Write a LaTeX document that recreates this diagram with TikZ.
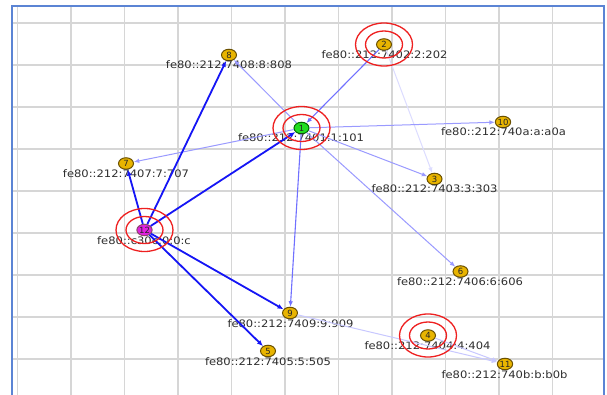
\documentclass[tikz,border=0pt]{standalone}
\usepackage{fontspec}
\setmainfont{DejaVu Sans}
\newfontfamily\lblfont[FakeStretch=1.12]{DejaVu Sans}
\usetikzlibrary{shapes.geometric,arrows.meta}
\definecolor{gridc}{HTML}{D6D6D6}
\definecolor{framec}{HTML}{5B84D4}
\definecolor{gold}{HTML}{E8B400}
\definecolor{goldd}{HTML}{6A5000}
\definecolor{greenn}{HTML}{22DD22}
\definecolor{magn}{HTML}{E020E0}
\definecolor{strongc}{HTML}{1515F5}
\definecolor{medc}{HTML}{7070FF}
\definecolor{litec}{HTML}{9A9AFF}
\definecolor{faintc}{HTML}{C8C8FF}
\definecolor{vfaintc}{HTML}{DCDCFF}
\definecolor{ringc}{HTML}{EE2020}
\definecolor{txtc}{HTML}{2E2E2E}
\begin{document}
\begin{tikzpicture}[x=1pt,y=-1pt,
  dev/.style={ellipse,draw=goldd,fill=gold,line width=1pt,minimum width=15pt,minimum height=11.5pt,inner sep=0pt,font=\fontsize{8.5}{9}\selectfont,text=black!85},
  lbl/.style={font=\lblfont\fontsize{10.3}{11}\selectfont,text=txtc,inner sep=0pt,anchor=base},
  ring/.style={draw=ringc,line width=1.3pt},
  gridl/.style={draw=gridc,line width=1.3pt},
  estrong/.style={draw=strongc,line width=1.8pt,-{Latex[length=6pt,width=5pt]}},
  emed/.style={draw=medc,line width=1.1pt,-{Latex[length=5.5pt,width=4.5pt]}},
  elite/.style={draw=litec,line width=1pt,-{Latex[length=5.5pt,width=4.5pt]}},
  efaint/.style={draw=faintc,line width=1pt,-{Latex[length=5.5pt,width=4.5pt]}},
  evfaint/.style={draw=vfaintc,line width=1pt,-{Latex[length=5.5pt,width=4.5pt]}}
]
\useasboundingbox (0,0) rectangle (607,395);
\fill[white] (0,0) rectangle (607,395);
% grid
\foreach \gx in {17.5,71,124.5,178,231.5,285,338.5,392,445.5,499,552.5}
  \draw[gridl] (\gx,7) -- (\gx,395);
\foreach \gy in {23,65,107,149,191,233,275,317,359}
  \draw[gridl] (12,\gy) -- (604,\gy);
% frame
\draw[framec,line width=2pt] (12,395) -- (12,6.5) -- (604,6.5) -- (604,395);
% nodes
\node[dev] (n8) at (229,55) {8};
\node[dev] (n2) at (384,44.5) {2};
\node[dev,fill=greenn,draw=black!60!green] (n1) at (301.5,128) {1};
\node[dev] (n10) at (503,122) {10};
\node[dev] (n7) at (126,163.5) {7};
\node[dev,fill=magn,draw=black!50!magenta] (n12) at (144.5,230) {12};
\node[dev] (n3) at (434.5,179) {3};
\node[dev] (n6) at (460.5,271.5) {6};
\node[dev] (n9) at (290,313) {9};
\node[dev] (n5) at (268,351) {5};
\node[dev] (n4) at (428,335.5) {4};
\node[dev] (n11) at (505,364) {11};
% labels
\node[lbl] (t8) at (229,69) {fe80::212:7408:8:808};
\node[lbl] (t2) at (384.5,58.5) {fe80::212:7402:2:202};
\node[lbl] (t1) at (301,142) {fe80::212:7401:1:101};
\node[lbl] (t10) at (503.5,136) {fe80::212:740a:a:a0a};
\node[lbl] (t7) at (126,177.5) {fe80::212:7407:7:707};
\node[lbl] (t12) at (144,244.5) {fe80::c30c:0:0:c};
\node[lbl] (t3) at (434.5,193) {fe80::212:7403:3:303};
\node[lbl] (t6) at (460,285.5) {fe80::212:7406:6:606};
\node[lbl] (t9) at (290.5,327) {fe80::212:7409:9:909};
\node[lbl] (t5) at (268,365) {fe80::212:7405:5:505};
\node[lbl] (t4) at (427.5,349.5) {fe80::212:7404:4:404};
\node[lbl] (t11) at (504.5,378) {fe80::212:740b:b:b0b};
% edges
\draw[evfaint] (n2) -- (n3);
\draw[efaint] (n9) -- (n11);
\draw[efaint] (n4) -- (n11);
\draw[elite] (n1) -- (n10);
\draw[elite] (n1) -- (n7);
\draw[elite] (n1) -- (n3);
\draw[elite] (n1) -- (n6);
\draw[elite] (n1) -- (n8);
\draw[emed] (n2) -- (n1);
\draw[emed] (n1) -- (n9);
\draw[estrong] (n12) -- (n8);
\draw[estrong] (n12) -- (n7);
\draw[estrong] (n12) -- (n1);
\draw[estrong] (n12) -- (n9);
\draw[estrong] (n12) -- (n5);
% rings
\foreach \n in {n1,n2,n4,n12}{
  \draw[ring] (\n) ellipse [x radius=28.5pt, y radius=21.5pt];
  \draw[ring] (\n) ellipse [x radius=18.5pt, y radius=13.5pt];
}
\end{tikzpicture}
\end{document}
